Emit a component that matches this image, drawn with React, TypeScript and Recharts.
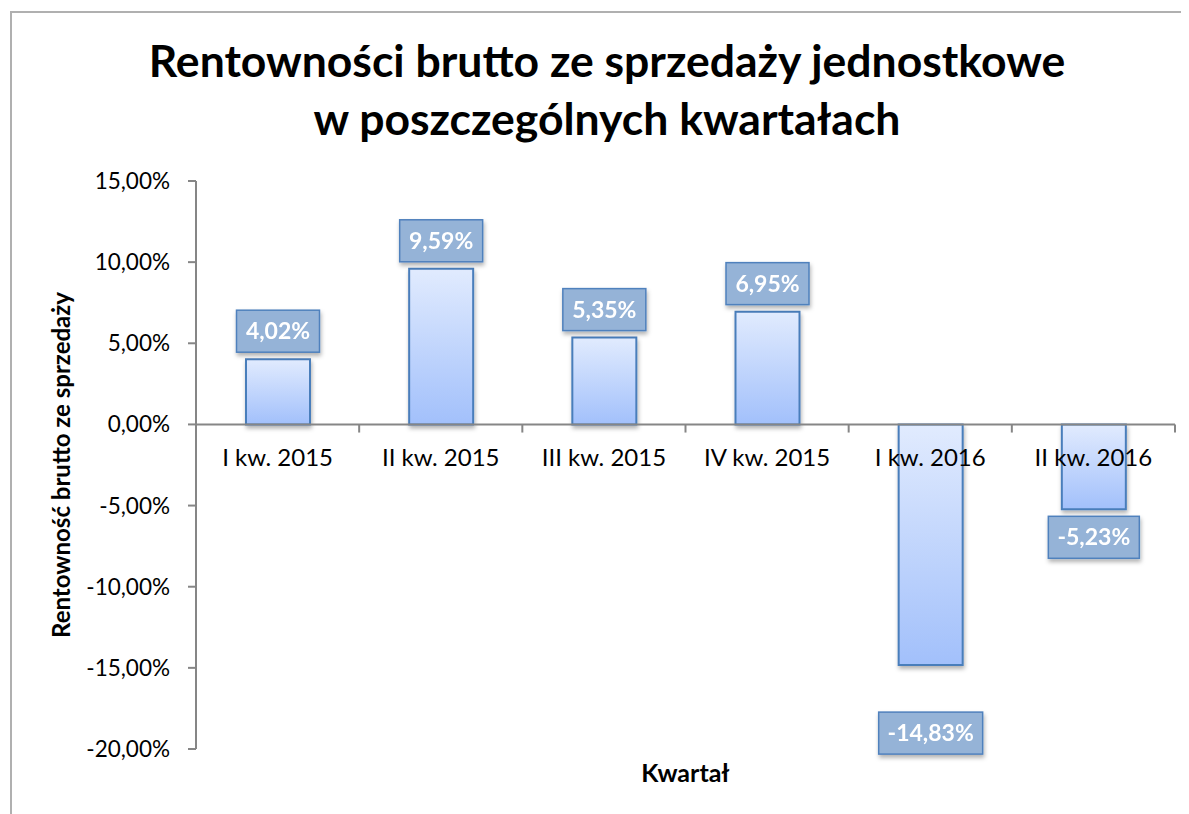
import React from 'react';
import {
  BarChart,
  Bar,
  XAxis,
  YAxis,
  LabelList,
  ReferenceLine,
  ReferenceDot,
} from 'recharts';

// quarters and unit gross profitability (fractions)
const quarters = ['I kw. 2015', 'II kw. 2015', 'III kw. 2015', 'IV kw. 2015', 'I kw. 2016', 'II kw. 2016'];
const profitability = [0.0402, 0.0959, 0.0535, 0.0695, -0.1483, -0.0523];
const yTicks = [0.15, 0.1, 0.05, 0, -0.05, -0.1, -0.15, -0.2];

const titleLines = ['Rentowności brutto ze sprzedaży jednostkowe', 'w poszczególnych kwartałach'];
const yTitle = 'Rentowność brutto ze sprzedaży';
const xTitle = 'Kwartał';

const data = quarters.map((name, i) => ({ name, value: profitability[i] }));

const FONT = 'Lato, "Open Sans", sans-serif';
const AXIS_GREY = '#868686';

const fmt = (v: number) => (v * 100).toFixed(2).replace('.', ',') + '%';

// rough glyph widths for the bold label text
const glyphW = (s: string) =>
  s.split('').reduce((w, c) => w + (c === ',' ? 6 : c === '%' ? 19 : c === '-' ? 8 : 13), 0);

// the -14,83% box sits further down in the original
const extraGap: Record<number, number> = { 4: 40 };

function ValueBox(props: any) {
  const vb = props.viewBox ?? props;
  const { x, y, width, height } = vb;
  const { value, index } = props;
  const top = Math.min(y, y + height);
  const bottom = Math.max(y, y + height);
  const text = fmt(value);
  const w = glyphW(text) + 19;
  const h = 42;
  const cx = x + width / 2;
  const gap = 7 + (extraGap[index] ?? 0);
  const by = value >= 0 ? top - gap - h : bottom + gap;
  return (
    <g filter="url(#softShadow)">
      <rect x={cx - w / 2} y={by} width={w} height={h} fill="#95b3d7" stroke="#4f81bd" strokeWidth={1.5} />
      <text
        x={cx}
        y={by + h / 2 + 8}
        textAnchor="middle"
        fill="#fff"
        fontFamily={FONT}
        fontWeight={700}
        fontSize={23}
      >
        {text}
      </text>
    </g>
  );
}

function CategoryLabel(props: any) {
  const { viewBox, value } = props;
  const cx = viewBox.x + viewBox.width / 2;
  return (
    <text x={cx} y={viewBox.y + 42} textAnchor="middle" fontFamily={FONT} fontSize={24} fill="#000">
      {value}
    </text>
  );
}

function YTitle(props: any) {
  const { viewBox } = props;
  const x = viewBox.x + 4;
  const y = viewBox.y + viewBox.height / 2;
  return (
    <text
      x={x}
      y={y}
      transform={`rotate(-90 ${x} ${y})`}
      textAnchor="middle"
      dominantBaseline="central"
      fontFamily={FONT}
      fontWeight={700}
      fontSize={24}
      fill="#000"
    >
      {yTitle}
    </text>
  );
}

function XTitle(props: any) {
  const { viewBox } = props;
  return (
    <text
      x={viewBox.x + viewBox.width / 2}
      y={viewBox.y + viewBox.height / 2}
      textAnchor="middle"
      dominantBaseline="central"
      fontFamily={FONT}
      fontWeight={700}
      fontSize={25}
      fill="#000"
    >
      {xTitle}
    </text>
  );
}

export default function App() {
  return (
    <div style={{ position: 'relative', width: 1181, height: 806, overflow: 'hidden', background: '#fff' }}>
      <div
        style={{
          position: 'absolute',
          left: 2,
          top: 3,
          right: 0,
          bottom: 0,
          borderLeft: '2px solid #b0b0b0',
          borderTop: '2px solid #b0b0b0',
        }}
      />
      <div
        style={{
          position: 'absolute',
          left: 99,
          top: 23,
          width: 1000,
          textAlign: 'center',
          fontFamily: FONT,
          fontWeight: 700,
          fontSize: 44.5,
          lineHeight: '58px',
          color: '#000',
        }}
      >
        {titleLines.map((l) => (
          <div key={l}>{l}</div>
        ))}
      </div>
      <div style={{ position: 'absolute', left: 0, top: 0 }}>
        <BarChart
          width={1181}
          height={806}
          data={data}
          margin={{ top: 173, right: 14, bottom: 19, left: 48 }}
          barSize={64}
        >
          <defs>
            <linearGradient id="barGrad" x1="0" y1="0" x2="0" y2="1">
              <stop offset="0%" stopColor="#e1ebfe" />
              <stop offset="100%" stopColor="#a2c0fb" />
            </linearGradient>
            <filter id="softShadow" x="-20%" y="-20%" width="140%" height="140%">
              <feDropShadow dx="1" dy="3" stdDeviation="2" floodColor="#000" floodOpacity="0.3" />
            </filter>
          </defs>
          <XAxis
            dataKey="name"
            height={46}
            axisLine={false}
            tickLine={false}
            tick={false}
            label={<XTitle />}
          />
          <YAxis
            width={140}
            domain={[-0.2, 0.15]}
            ticks={yTicks}
            tickFormatter={fmt}
            tickSize={8}
            tickMargin={18}
            axisLine={{ stroke: AXIS_GREY, strokeWidth: 2 }}
            tickLine={{ stroke: AXIS_GREY, strokeWidth: 2 }}
            tick={{ fill: '#000', fontFamily: FONT, fontSize: 22.5 }}
            label={<YTitle />}
          />
          <Bar
            dataKey="value"
            fill="url(#barGrad)"
            stroke="#4a7ebb"
            strokeWidth={2}
            filter="url(#softShadow)"
            isAnimationActive={false}
          >
            <LabelList dataKey="value" content={<ValueBox />} />
          </Bar>
          <ReferenceLine y={0} stroke={AXIS_GREY} strokeWidth={2} />
          {quarters.map((q) => (
            <ReferenceLine
              key={`tick-${q}`}
              segment={[
                { x: q, y: 0 },
                { x: q, y: -0.005 },
              ]}
              position="end"
              stroke={AXIS_GREY}
              strokeWidth={2}
            />
          ))}
          {quarters.map((q) => (
            <ReferenceDot
              key={`cat-${q}`}
              x={q}
              y={0}
              r={0}
              fill="none"
              stroke="none"
              label={<CategoryLabel value={q} />}
            />
          ))}
        </BarChart>
      </div>
    </div>
  );
}
